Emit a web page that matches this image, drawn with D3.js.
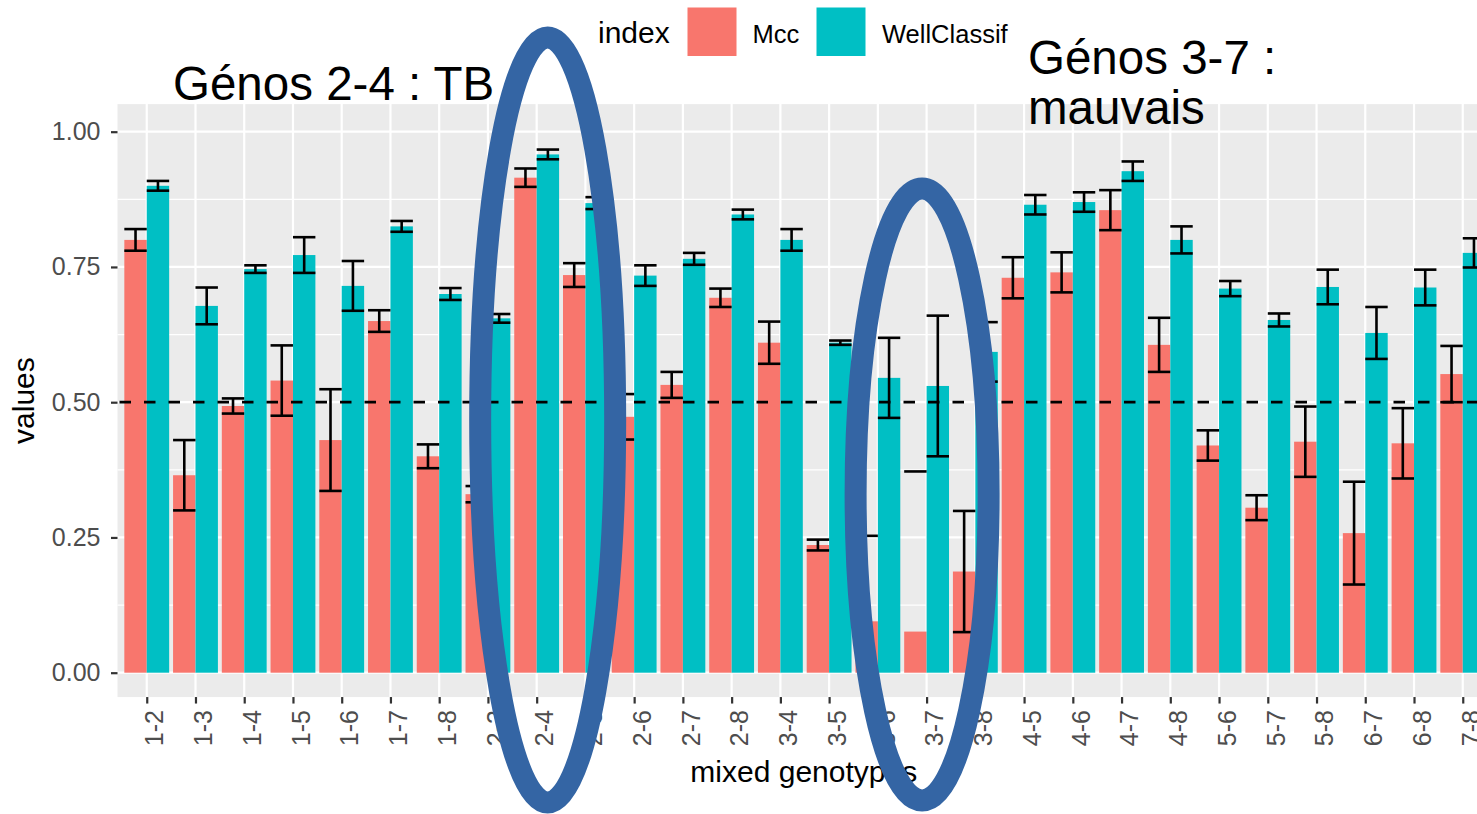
<!DOCTYPE html>
<html>
<head>
<meta charset="utf-8">
<script src="https://cdn.jsdelivr.net/npm/d3@7"></script>
<style>
  html, body { margin: 0; padding: 0; background: #fff; }
  svg { display: block; font-family: "Liberation Sans", Arial, sans-serif; }
</style>
</head>
<body>
<svg id="chart" width="1477" height="814"></svg>
<script>
// Genotype pairs on the x axis
const categories = ["1-2","1-3","1-4","1-5","1-6","1-7","1-8","2-3","2-4","2-5","2-6","2-7","2-8",
  "3-4","3-5","3-6","3-7","3-8","4-5","4-6","4-7","4-8","5-6","5-7","5-8","6-7","6-8","7-8"];

// Series: mean value and error half-width per pair
const mccValues = [0.80,0.365,0.493,0.54,0.43,0.65,0.40,0.33,0.915,0.735,0.473,0.532,0.693,0.61,
  0.236,0.095,0.076,0.187,0.73,0.74,0.855,0.606,0.42,0.305,0.427,0.258,0.424,0.552];
const mccErrors = [0.02,0.065,0.014,0.065,0.094,0.02,0.022,0.015,0.017,0.022,0.042,0.024,0.017,0.039,
  0.01,0.158,0.296,0.112,0.038,0.037,0.037,0.05,0.028,0.023,0.065,0.095,0.065,0.052];
const wellValues = [0.90,0.678,0.746,0.772,0.715,0.825,0.70,0.655,0.958,0.868,0.734,0.765,0.847,0.80,
  0.61,0.545,0.53,0.593,0.865,0.87,0.927,0.80,0.71,0.652,0.713,0.628,0.712,0.776];
const wellErrors = [0.009,0.034,0.007,0.033,0.046,0.01,0.011,0.008,0.009,0.011,0.019,0.011,0.009,0.02,
  0.004,0.074,0.13,0.055,0.018,0.018,0.018,0.025,0.014,0.012,0.032,0.048,0.033,0.027];

const seriesNames = ["Mcc", "WellClassif"];
const seriesColors = ["#F8766D", "#00BFC4"];
const yTicks = [0, 0.25, 0.5, 0.75, 1];
const yMinorTicks = [0.125, 0.375, 0.625, 0.875];
const threshold = 0.5;

const svg = d3.select("#chart");

// Scales
const panelLeft = 117.5, panelRight = 1492;
const x = d3.scalePoint().domain(categories).range([panelLeft, panelRight]).padding(0.6);
const step = x.step();
const y = d3.scaleLinear().domain([0, 1]).range([672.7, 131.7]);
const yLo = -0.045, yHi = 1.051;
const panelTop = y(yHi), panelBottom = y(yLo);

const groupWidth = step * 0.92;
const barW = groupWidth / 2;
const xs = d3.scaleBand().domain(seriesNames).range([-groupWidth / 2, groupWidth / 2]);

// Panel background and grid
svg.append("rect")
  .attr("x", panelLeft).attr("y", panelTop)
  .attr("width", panelRight - panelLeft).attr("height", panelBottom - panelTop)
  .attr("fill", "#EBEBEB");

const grid = svg.append("g");
grid.selectAll("line.minor").data(yMinorTicks).join("line")
  .attr("x1", panelLeft).attr("x2", panelRight)
  .attr("y1", d => y(d)).attr("y2", d => y(d))
  .attr("stroke", "#fff").attr("stroke-width", 1.1);
grid.selectAll("line.major").data(yTicks).join("line")
  .attr("x1", panelLeft).attr("x2", panelRight)
  .attr("y1", d => y(d)).attr("y2", d => y(d))
  .attr("stroke", "#fff").attr("stroke-width", 2.2);
grid.selectAll("line.vert").data(categories).join("line")
  .attr("x1", d => x(d)).attr("x2", d => x(d))
  .attr("y1", panelTop).attr("y2", panelBottom)
  .attr("stroke", "#fff").attr("stroke-width", 2.2);

// Long-format rows
const rows = [];
categories.forEach((c, i) => {
  rows.push({ cat: c, key: "Mcc", value: mccValues[i], err: mccErrors[i] });
  rows.push({ cat: c, key: "WellClassif", value: wellValues[i], err: wellErrors[i] });
});
const color = d3.scaleOrdinal().domain(seriesNames).range(seriesColors);

// Bars
svg.append("g").selectAll("rect").data(rows).join("rect")
  .attr("x", d => x(d.cat) + xs(d.key))
  .attr("width", barW)
  .attr("y", d => y(d.value))
  .attr("height", d => y(0) - y(d.value))
  .attr("fill", d => color(d.key));

// Error bars (values below the axis limit are dropped, leaving only the upper cap)
const eb = svg.append("g").attr("stroke", "#000").attr("stroke-width", 2.6).attr("fill", "none");
rows.forEach(d => {
  const cx = x(d.cat) + xs(d.key) + barW / 2;
  const hi = d.value + d.err, lo = d.value - d.err;
  const x0 = cx - barW / 2, x1 = cx + barW / 2;
  eb.append("line").attr("x1", x0).attr("x2", x1).attr("y1", y(hi)).attr("y2", y(hi));
  if (lo >= 0) {
    eb.append("line").attr("x1", cx).attr("x2", cx).attr("y1", y(hi)).attr("y2", y(lo));
    eb.append("line").attr("x1", x0).attr("x2", x1).attr("y1", y(lo)).attr("y2", y(lo));
  }
});

// Threshold line
svg.append("line")
  .attr("x1", panelLeft).attr("x2", panelRight)
  .attr("y1", y(threshold)).attr("y2", y(threshold))
  .attr("stroke", "#000").attr("stroke-width", 2.8)
  .attr("stroke-dasharray", "11.5 13").attr("stroke-dashoffset", -2);

// Y axis
const yAxis = svg.append("g").attr("transform", `translate(${panelLeft},0)`)
  .call(d3.axisLeft(y).tickValues(yTicks).tickFormat(d3.format(".2f")).tickSize(6.5).tickPadding(10.5));
yAxis.select(".domain").remove();
yAxis.selectAll(".tick line").attr("stroke", "#333").attr("stroke-width", 2.2);
yAxis.selectAll(".tick text").attr("fill", "#4D4D4D")
  .style("font-size", "25px").style("font-family", "'Liberation Sans', Arial, sans-serif");

// X axis
const xAxis = svg.append("g").attr("transform", `translate(0,${panelBottom})`)
  .call(d3.axisBottom(x).tickSize(6.5).tickFormat(""));
xAxis.select(".domain").remove();
xAxis.selectAll(".tick line").attr("stroke", "#333").attr("stroke-width", 2.2);

svg.append("g").selectAll("text").data(categories).join("text")
  .attr("transform", d => `translate(${x(d) + 8},${panelBottom + 13}) rotate(-90)`)
  .attr("text-anchor", "end")
  .attr("dy", "0.35em")
  .attr("fill", "#4D4D4D")
  .style("font-size", "25px")
  .text(d => d);

// Axis titles
svg.append("text")
  .attr("x", (panelLeft + panelRight) / 2 - 1).attr("y", 782)
  .attr("text-anchor", "middle").attr("fill", "#000")
  .style("font-size", "30px")
  .text("mixed genotypes");

svg.append("text")
  .attr("transform", `translate(34,${(panelTop + panelBottom) / 2}) rotate(-90)`)
  .attr("text-anchor", "middle").attr("fill", "#000")
  .style("font-size", "30px")
  .text("values");

// Legend
const legend = svg.append("g");
legend.append("text").attr("x", 598).attr("y", 43).style("font-size", "30px").attr("fill", "#000").text("index");
const legendKeyX = [687.5, 816.5];
const legendLabelX = [752.5, 882];
seriesNames.forEach((name, i) => {
  legend.append("rect").attr("x", legendKeyX[i]).attr("y", 7.5).attr("width", 49).attr("height", 48.5)
    .attr("fill", seriesColors[i]);
  legend.append("text").attr("x", legendLabelX[i]).attr("y", 42.5)
    .style("font-size", "25.5px").attr("fill", "#000").text(name);
});

// Highlight ellipses
const highlights = [
  { cat: "2-4", dx: 11, cy: 420, rx: 67.5, ry: 382.5 },
  { cat: "3-7", dx: -4.5, cy: 494.5, rx: 66.5, ry: 306 }
];
svg.append("g").selectAll("ellipse").data(highlights).join("ellipse")
  .attr("cx", d => x(d.cat) + d.dx)
  .attr("cy", d => d.cy)
  .attr("rx", d => d.rx).attr("ry", d => d.ry)
  .attr("fill", "none").attr("stroke", "#3465A4").attr("stroke-width", 22);

// Notes
const notes = svg.append("g").style("font-size", "47.5px").attr("fill", "#000");
notes.append("text").attr("x", 173).attr("y", 100).text("Génos 2-4 : TB");
notes.append("text").attr("x", 1028).attr("y", 73.5).text("Génos 3-7 :");
notes.append("text").attr("x", 1028).attr("y", 123.5).text("mauvais");
</script>
</body>
</html>
